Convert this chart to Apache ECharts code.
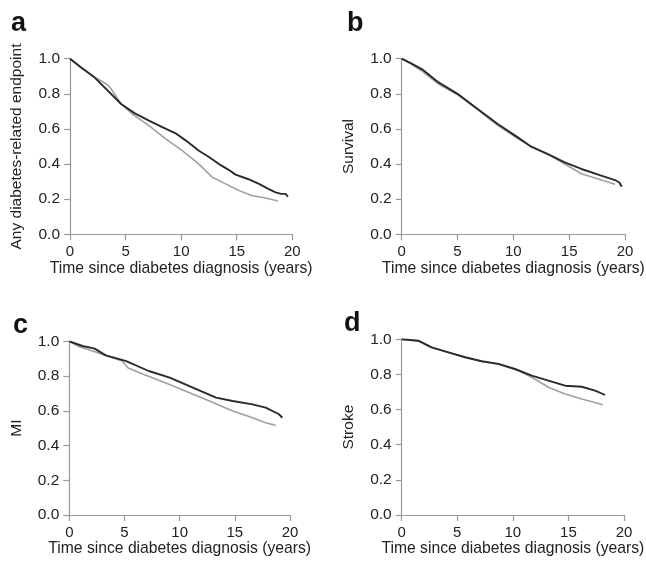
<!DOCTYPE html>
<html>
<head>
<meta charset="utf-8">
<script src="https://cdn.jsdelivr.net/npm/echarts@6/dist/echarts.min.js"></script>
<style>
html,body{margin:0;padding:0;background:#fff;}
#chart{width:646px;height:566px;}
</style>
</head>
<body>
<div id="chart"></div>
<script>
// ---- data ----
const panelLetters = ['a', 'b', 'c', 'd'];
const yTitles = ['Any diabetes-related endpoint', 'Survival', 'MI', 'Stroke'];
const xTitle = 'Time since diabetes diagnosis (years)';
const xTicks = [0, 5, 10, 15, 20];
const yTicks = [0.0, 0.2, 0.4, 0.6, 0.8, 1.0];

// Panel a
const aDarkT = [0, 1, 2.2, 3.4, 4.6, 5.8, 7.1, 8.3, 9.5, 10.4, 11.6, 12.5, 13.4, 14.2, 14.9, 16.0, 17.0, 17.8, 18.5, 19.0, 19.4, 19.6];
const aDarkV = [1.0, 0.95, 0.894, 0.818, 0.742, 0.69, 0.647, 0.61, 0.575, 0.535, 0.476, 0.44, 0.40, 0.37, 0.34, 0.315, 0.287, 0.26, 0.239, 0.23, 0.23, 0.214];
const aGrayT = [0, 1, 2.2, 2.9, 3.5, 4.1, 4.6, 5.6, 7.1, 8.6, 10.1, 11.6, 12.8, 14.0, 15.2, 16.4, 17.6, 18.7];
const aGrayV = [1.0, 0.95, 0.894, 0.87, 0.845, 0.79, 0.742, 0.685, 0.619, 0.543, 0.476, 0.40, 0.325, 0.287, 0.249, 0.22, 0.207, 0.19];

// Panel b
const bDarkT = [0, 0.8, 1.8, 3.3, 5.0, 6.8, 8.6, 10.4, 11.6, 13.1, 14.6, 16.1, 17.6, 19.1, 19.5, 19.7];
const bDarkV = [1.0, 0.975, 0.941, 0.865, 0.80, 0.713, 0.628, 0.552, 0.499, 0.457, 0.41, 0.372, 0.34, 0.309, 0.295, 0.271];
const bGrayT = [0, 0.8, 1.8, 3.3, 5.0, 6.8, 8.6, 10.4, 11.6, 13.1, 14.6, 16.1, 17.6, 19.1];
const bGrayV = [1.0, 0.972, 0.93, 0.855, 0.795, 0.71, 0.62, 0.545, 0.499, 0.455, 0.40, 0.345, 0.315, 0.285];

// Panel c
const cDarkT = [0, 1.2, 2.3, 3.3, 5.1, 7.2, 9.1, 11.2, 13.3, 14.8, 16.6, 17.8, 19.0, 19.3];
const cDarkV = [1.0, 0.973, 0.958, 0.919, 0.887, 0.829, 0.791, 0.733, 0.676, 0.656, 0.637, 0.618, 0.58, 0.56];
const cGrayT = [0, 0.9, 2.1, 3.3, 4.8, 5.3, 6.3, 8.7, 10.9, 12.7, 14.8, 16.6, 17.8, 18.7];
const cGrayV = [1.0, 0.969, 0.944, 0.919, 0.887, 0.848, 0.82, 0.762, 0.704, 0.656, 0.599, 0.56, 0.531, 0.516];

// Panel d
const dDarkT = [0, 1.5, 2.7, 4.2, 5.7, 7.2, 8.7, 10.2, 11.7, 13.2, 14.7, 16.2, 17.4, 18.3];
const dDarkV = [1.0, 0.992, 0.954, 0.926, 0.898, 0.875, 0.86, 0.831, 0.793, 0.765, 0.736, 0.73, 0.708, 0.683];
const dGrayT = [0, 1.5, 2.7, 4.2, 5.7, 7.2, 8.7, 10.5, 11.7, 13.2, 14.7, 16.2, 18.1];
const dGrayV = [1.0, 0.99, 0.952, 0.926, 0.898, 0.875, 0.858, 0.822, 0.784, 0.727, 0.689, 0.66, 0.628];

// ---- build ----
const FONT = '"Liberation Sans", Arial, Helvetica, sans-serif';
const curves = [
  [[aGrayT, aGrayV], [aDarkT, aDarkV]],
  [[bGrayT, bGrayV], [bDarkT, bDarkV]],
  [[cGrayT, cGrayV], [cDarkT, cDarkV]],
  [[dGrayT, dGrayV], [dDarkT, dDarkV]]
];
const grids = [
  {left: 70, top: 58.7, width: 222.3, height: 175.6},
  {left: 401.7, top: 58.7, width: 223.3, height: 175.6},
  {left: 69.3, top: 341.3, width: 220.7, height: 173.7},
  {left: 401.7, top: 339.3, width: 222.3, height: 175.7}
];
const letterPos = [[6, 5], [342, 5], [8, 307], [339, 305]];
const axisGray = '#9a9a9a';
const zip = (t, v) => t.map((x, i) => [x, v[i]]);

const option = {
  backgroundColor: '#fff',
  animation: false,
  title: panelLetters.map((l, i) => ({
    text: l, left: letterPos[i][0], top: letterPos[i][1],
    textStyle: {fontFamily: FONT, fontSize: 27, fontWeight: 'bold', color: '#111'}
  })),
  grid: grids.map(g => Object.assign({containLabel: false, outerBoundsMode: 'none'}, g)),
  xAxis: grids.map((g, i) => ({
    type: 'value', gridIndex: i, min: xTicks[0], max: xTicks[xTicks.length - 1], interval: 5,
    name: xTitle, nameLocation: 'middle', nameGap: 19,
    nameTextStyle: {fontFamily: FONT, fontSize: 15.7, color: '#222'},
    axisLine: {show: true, onZero: false, lineStyle: {color: axisGray, width: 1.2}},
    axisTick: {show: true, inside: false, length: 6, lineStyle: {color: axisGray, width: 1.2}},
    axisLabel: {fontFamily: FONT, fontSize: 15, color: '#222', margin: 10},
    splitLine: {show: false}
  })),
  yAxis: grids.map((g, i) => ({
    type: 'value', gridIndex: i, min: yTicks[0], max: yTicks[yTicks.length - 1], interval: 0.2,
    name: yTitles[i], nameLocation: 'middle', nameGap: 45, nameRotate: 90,
    nameTextStyle: {fontFamily: FONT, fontSize: 15.5, color: '#222'},
    axisLine: {show: true, onZero: false, lineStyle: {color: axisGray, width: 1.2}},
    axisTick: {show: true, inside: false, length: 6, lineStyle: {color: axisGray, width: 1.2}},
    axisLabel: {fontFamily: FONT, fontSize: 15.5, color: '#222', margin: 10, formatter: v => v.toFixed(1)},
    splitLine: {show: false}
  })),
  series: []
};
curves.forEach((pair, i) => {
  pair.forEach((c, j) => {
    option.series.push({
      type: 'line', xAxisIndex: i, yAxisIndex: i, showSymbol: false, symbol: 'none',
      data: zip(c[0], c[1]),
      lineStyle: {color: j === 0 ? '#a0a0a0' : '#2a2a2a', width: j === 0 ? 1.6 : 1.9},
      z: j === 0 ? 2 : 3
    });
  });
});

const chart = echarts.init(document.getElementById('chart'), null, {renderer: 'canvas'});
chart.setOption(option);
</script>
</body>
</html>
